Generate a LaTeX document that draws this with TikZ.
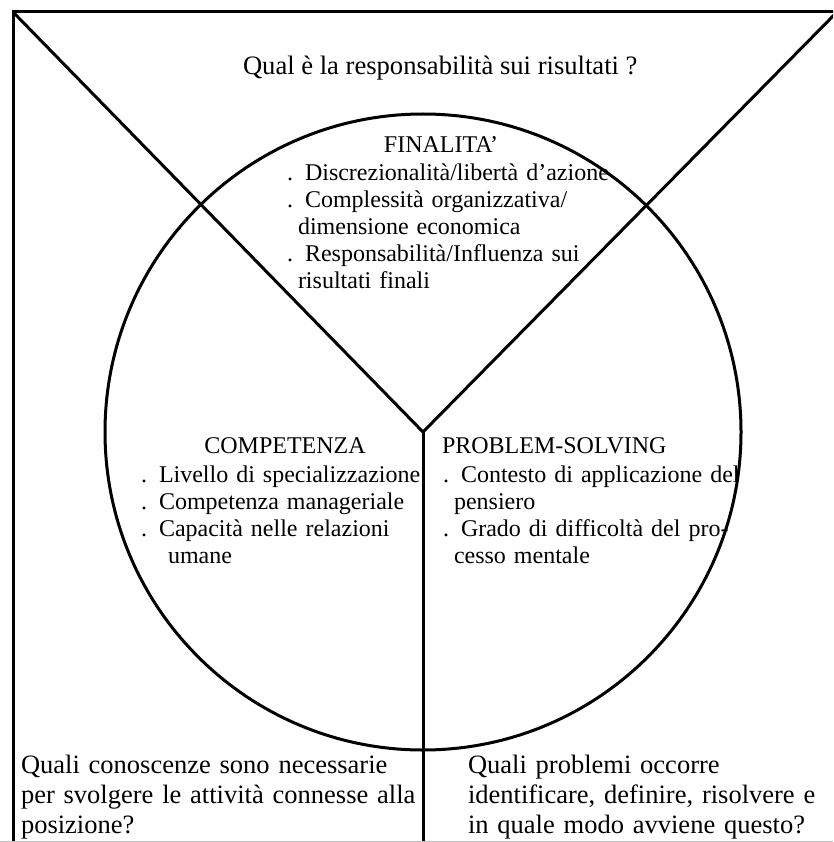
\documentclass[tikz,border=0pt]{standalone}
\usepackage{fontspec}
\setmainfont{Liberation Serif}
\newcommand\titlefs{\fontsize{26.6}{30}\selectfont}
\newcommand\innerfs{\fontsize{24}{27}\selectfont}
\newcommand\bottomfs{\fontsize{26.5}{30}\selectfont}
\begin{document}
\begin{tikzpicture}[x=1pt,y=-1pt,
  bold/.style={line width=3pt},
  txt/.style={inner sep=0pt, outer sep=0pt},
  hdr/.style={txt, font=\innerfs},
  lst/.style={txt, font=\innerfs, text width=400pt, align=left, anchor=base west},
  btm/.style={txt, font=\bottomfs, text width=420pt, align=left, anchor=base west}]
\useasboundingbox (0,0) rectangle (833,842);
\clip (0,0) rectangle (833,842);
% frame and partition
\coordinate (tl) at (13,12);
\coordinate (tr) at (837,12);
\coordinate (v) at (423,432);
\coordinate (bl) at (13,846);
\coordinate (vb) at (423,846);
\draw[bold] (bl) -- (tl) -- (tr);
\draw[bold] (tl) -- (v) -- (tr);
\draw[bold] (v) -- (vb);
\node[circle, draw, bold, minimum size=636pt, inner sep=0pt] (c) at (v) {};
\draw[black!25, line width=1pt] (0,841.5) -- (833,841.5);
% title
\node[txt, font=\titlefs, anchor=base west] (title) at (243,75) {Qual è la responsabilità sui risultati ?};
% FINALITA'
\node[hdr, anchor=base] (finh) at (441,153) {FINALITA’};
\node[lst] (finl) at (287,181) {. Discrezionalità/libertà d’azione\\
. Complessità organizzativa/\\
\hspace*{11pt}dimensione economica\\
. Responsabilità/Influenza sui\\
\hspace*{11pt}risultati finali};
% COMPETENZA
\node[hdr, anchor=base] (comh) at (285,453) {COMPETENZA};
\node[lst] (coml) at (141,482) {. Livello di specializzazione\\
. Competenza manageriale\\
. Capacità nelle relazioni\\
\hspace*{27pt}umane};
% PROBLEM-SOLVING
\node[hdr, anchor=base west] (proh) at (442,453) {PROBLEM-SOLVING};
\node[lst] (prol) at (443,482) {. Contesto di applicazione del\\
\hspace*{11pt}pensiero\\
. Grado di difficoltà del pro-\\
\hspace*{11pt}cesso mentale};
% bottom questions
\node[btm] (qleft) at (21,773) {Quali conoscenze sono necessarie\\
per svolgere le attività connesse alla\\
posizione?};
\node[btm] (qright) at (468,773) {Quali problemi occorre\\
identificare, definire, risolvere e\\
in quale modo avviene questo?};
\end{tikzpicture}
\end{document}
